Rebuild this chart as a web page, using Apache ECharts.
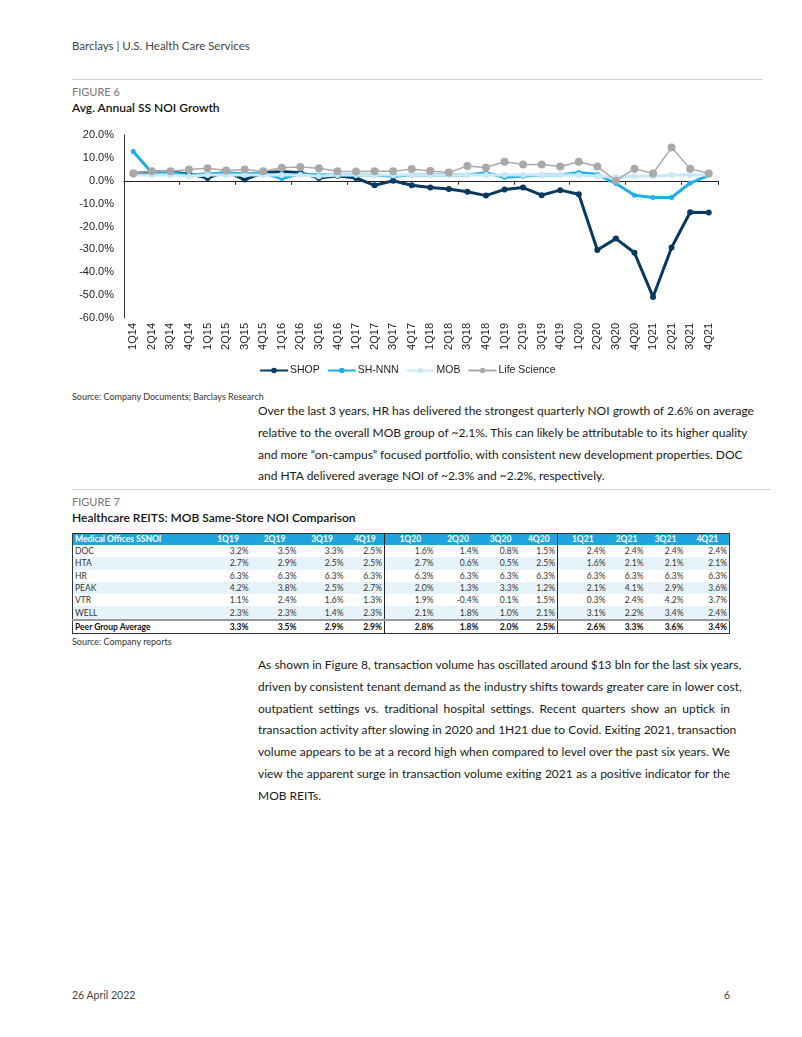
<!DOCTYPE html>
<html><head><meta charset="utf-8">
<script src="https://cdn.jsdelivr.net/npm/echarts@6/dist/echarts.min.js"></script>
<style>
html,body{margin:0;padding:0;background:#fff;}
body{width:802px;height:1037px;position:relative;overflow:hidden;font-family:Lato,"Noto Sans",sans-serif;color:#222;}
.abs{position:absolute;white-space:nowrap;}
.rule{position:absolute;height:1px;background:#cfcfcf;}
.para{position:absolute;left:258px;width:472px;font-size:12px;line-height:21.8px;color:#1a1a1a;}
.para div{white-space:nowrap;text-align:justify;text-align-last:justify;}
.para div.last{text-align-last:left;}
table{position:absolute;left:72px;top:533px;border-collapse:collapse;font-size:8.5px;table-layout:fixed;width:657px;border:1px solid #333;}
td,th{padding:0 2px;height:12.3px;line-height:12px;overflow:hidden;white-space:nowrap;}
th{background:#1ea4e0;color:#fff;font-weight:700;height:11px;line-height:11px;text-align:center;}
th.lbl,td.lbl{text-align:left;padding-left:2px;}
td{text-align:right;color:#333;}
tr.alt td{background:#e6f3fa;}
tr.avg td{font-weight:700;color:#111;border-top:2px solid #999;}
.sep{border-right:1.5px solid #222;}
</style></head>
<body>
<div class="abs" style="left:72px;top:39px;font-size:11.5px;color:#444;">Barclays | U.S. Health Care Services</div>
<div class="rule" style="left:72px;top:79px;width:690px;"></div>
<div class="abs" style="left:72px;top:85px;font-size:11px;color:#777;">FIGURE 6</div>
<div class="abs" style="left:72px;top:100px;font-size:12px;color:#111;font-weight:600;">Avg. Annual SS NOI Growth</div>
<div id="chart" style="position:absolute;left:0;top:0;width:802px;height:390px;"></div>
<div class="abs" style="left:72px;top:391px;font-size:9px;color:#333;">Source: Company Documents; Barclays Research</div>
<div class="para" style="top:400px;" id="p1"></div>
<div class="rule" style="left:72px;top:489px;width:698px;"></div>
<div class="abs" style="left:72px;top:495px;font-size:11px;color:#777;">FIGURE 7</div>
<div class="abs" style="left:72px;top:510px;font-size:12px;color:#111;font-weight:600;">Healthcare REITS: MOB Same-Store NOI Comparison</div>
<table id="tbl"></table>
<div class="abs" style="left:72px;top:636px;font-size:9px;color:#333;">Source: Company reports</div>
<div class="para" style="top:654px;" id="p2"></div>
<div class="abs" style="left:72px;top:989px;font-size:10.5px;color:#444;">26 April 2022</div>
<div class="abs" style="left:724px;top:989px;font-size:10.5px;color:#444;">6</div>
<script>
// ---- Figure 6 data ----
const categories = ['1Q14','2Q14','3Q14','4Q14','1Q15','2Q15','3Q15','4Q15','1Q16','2Q16','3Q16','4Q16','1Q17','2Q17','3Q17','4Q17','1Q18','2Q18','3Q18','4Q18','1Q19','2Q19','3Q19','4Q19','1Q20','2Q20','3Q20','4Q20','1Q21','2Q21','3Q21','4Q21'];
const shop = [3.2,3.8,3.8,3.0,1.2,4.0,0.5,3.5,4.0,3.5,1.2,2.2,1.2,-2.0,0.0,-2.0,-3.0,-3.6,-4.8,-6.5,-3.8,-3.0,-6.3,-4.1,-5.9,-30.3,-25.3,-31.5,-50.8,-29.2,-13.8,-13.9];
const shNNN = [12.8,3.5,3.5,2.5,3.0,3.5,3.0,3.5,1.0,3.0,2.5,2.5,2.5,2.5,2.0,2.5,2.5,2.5,2.5,3.5,1.5,2.0,2.5,2.5,3.6,2.7,-1.2,-6.3,-7.3,-7.3,-1.0,2.4];
const mob = [2.5,2.5,2.5,2.0,2.5,2.5,2.5,2.5,2.5,2.5,2.0,2.5,2.5,2.5,2.5,2.5,2.5,2.5,2.5,2.5,2.5,2.5,2.5,2.5,2.5,2.0,1.5,2.0,2.0,2.5,2.5,2.5];
const lifeScience = [3.3,4.2,4.2,4.9,5.5,4.5,4.9,4.2,5.7,6.0,5.5,4.2,4.0,4.1,4.1,5.1,4.3,3.6,6.5,5.8,8.3,7.1,7.1,6.2,8.3,6.2,0.0,5.3,3.2,14.5,5.3,3.2];
const seriesNames = ['SHOP','SH-NNN','MOB','Life Science'];

// ---- Figure 7 data ----
const tableHeader = ['Medical Offices SSNOI','1Q19','2Q19','3Q19','4Q19','1Q20','2Q20','3Q20','4Q20','1Q21','2Q21','3Q21','4Q21'];
const tableRows = [
  ['DOC', '3.2%','3.5%','3.3%','2.5%','1.6%','1.4%','0.8%','1.5%','2.4%','2.4%','2.4%','2.4%'],
  ['HTA', '2.7%','2.9%','2.5%','2.5%','2.7%','0.6%','0.5%','2.5%','1.6%','2.1%','2.1%','2.1%'],
  ['HR',  '6.3%','6.3%','6.3%','6.3%','6.3%','6.3%','6.3%','6.3%','6.3%','6.3%','6.3%','6.3%'],
  ['PEAK','4.2%','3.8%','2.5%','2.7%','2.0%','1.3%','3.3%','1.2%','2.1%','4.1%','2.9%','3.6%'],
  ['VTR', '1.1%','2.4%','1.6%','1.3%','1.9%','-0.4%','0.1%','1.5%','0.3%','2.4%','4.2%','3.7%'],
  ['WELL','2.3%','2.3%','1.4%','2.3%','2.1%','1.8%','1.0%','2.1%','3.1%','2.2%','3.4%','2.4%']
];
const tableAvg = ['Peer Group Average','3.3%','3.5%','2.9%','2.9%','2.8%','1.8%','2.0%','2.5%','2.6%','3.3%','3.6%','3.4%'];

// ---- Text ----
const para1 = [
 'Over the last 3 years, HR has delivered the strongest quarterly NOI growth of 2.6% on average',
 'relative to the overall MOB group of ~2.1%. This can likely be attributable to its higher quality',
 'and more \u201con-campus\u201d focused portfolio, with consistent new development properties. DOC',
 'and HTA delivered average NOI of ~2.3% and ~2.2%, respectively.'
];
const para2 = [
 'As shown in Figure 8, transaction volume has oscillated around $13 bln for the last six years,',
 'driven by consistent tenant demand as the industry shifts towards greater care in lower cost,',
 'outpatient settings vs. traditional hospital settings. Recent quarters show an uptick in',
 'transaction activity after slowing in 2020 and 1H21 due to Covid. Exiting 2021, transaction',
 'volume appears to be at a record high when compared to level over the past six years. We',
 'view the apparent surge in transaction volume exiting 2021 as a positive indicator for the',
 'MOB REITs.'
];

function fillPara(id, lines){
  const el = document.getElementById(id);
  lines.forEach((t,i)=>{const d=document.createElement('div');d.textContent=t;if(i===lines.length-1)d.className='last';el.appendChild(d);});
}
fillPara('p1', para1);
fillPara('p2', para2);

// table
const colW = [133,45,48,47,39,51,45,40,37,50,38,40,44];
(function(){
  const t = document.getElementById('tbl');
  let h = '<colgroup>' + colW.map(w=>'<col style="width:'+w+'px">').join('') + '</colgroup>';
  const sepIdx = [4,8];
  h += '<tr>' + tableHeader.map((c,i)=>'<th class="'+(i===0?'lbl ':'')+(sepIdx.includes(i)?'sep':'')+'">'+c+'</th>').join('') + '</tr>';
  tableRows.forEach((r,ri)=>{
    h += '<tr class="'+(ri%2===1?'alt':'')+'">' + r.map((c,i)=>'<td class="'+(i===0?'lbl ':'')+(sepIdx.includes(i)?'sep':'')+'">'+c+'</td>').join('') + '</tr>';
  });
  h += '<tr class="avg">' + tableAvg.map((c,i)=>'<td class="'+(i===0?'lbl ':'')+(sepIdx.includes(i)?'sep':'')+'">'+c+'</td>').join('') + '</tr>';
  t.innerHTML = h;
})();

// chart
const chart = echarts.init(document.getElementById('chart'), null, {renderer:'canvas'});
const font = 'Liberation Sans Narrow, Liberation Sans, sans-serif';
const colors = ['#083a60','#1eaee8','#c8e8f6','#a9a9a9'];
const datasets = [shop, shNNN, mob, lifeScience];
const widths = [3,3,3,1.5];
const sizes = [6,5,6,8];
chart.setOption({
  animation:false,
  grid:{left:124, top:135, width:594, height:183},
  legend:{
    data:seriesNames, top:360, left:254, itemWidth:28, itemHeight:7, itemGap:7,
    textStyle:{fontFamily:font, fontSize:10.5, color:'#222', padding:[0,0,0,-3]}
  },
  xAxis:[
    {type:'category', data:categories, boundaryGap:true,
     axisLine:{onZero:true, lineStyle:{color:'#222', width:1}},
     axisTick:{show:true, length:4, lineStyle:{color:'#222'}},
     axisLabel:{show:false}},
    {type:'category', data:categories, boundaryGap:true, position:'bottom',
     axisLine:{show:false, onZero:false}, axisTick:{show:false},
     axisLabel:{rotate:90, margin:5, fontFamily:font, fontSize:11, color:'#222', interval:0}}
  ],
  yAxis:{type:'value', min:-60, max:20, interval:10,
     axisLine:{show:true, lineStyle:{color:'#333', width:1}},
     axisTick:{show:false}, splitLine:{show:false},
     axisLabel:{margin:10, fontFamily:font, fontSize:11, color:'#222', formatter:v=>v.toFixed(1)+'%'}},
  series: seriesNames.map((n,i)=>({
    name:n, type:'line', data:datasets[i], xAxisIndex:0,
    symbol:'circle', symbolSize:sizes[i], showSymbol:true,
    lineStyle:{color:colors[i], width:widths[i]},
    itemStyle:{color:colors[i]}
  }))
});
</script>
</body></html>
